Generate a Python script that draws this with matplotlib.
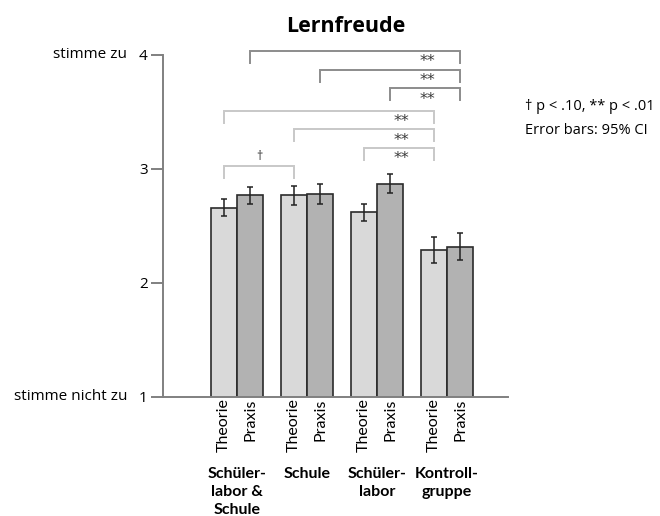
import numpy as np
import matplotlib.pyplot as plt

plt.rcParams['font.family'] = ['Open Sans', 'DejaVu Sans']

gruppen = ['Schüler-\nlabor &\nSchule', 'Schule', 'Schüler-\nlabor', 'Kontroll-\ngruppe']
theorie = [2.66, 2.77, 2.62, 2.29]
praxis = [2.77, 2.78, 2.87, 2.32]
theorie_ci = [0.073, 0.085, 0.077, 0.114]
praxis_ci = [0.075, 0.086, 0.083, 0.116]

# brackets: (group a, bar a, group b, bar b, height, label, dark?)
brackets = [
    (0, 'P', 3, 'P', 4.035, '**', True),
    (1, 'P', 3, 'P', 3.868, '**', True),
    (2, 'P', 3, 'P', 3.71, '**', True),
    (0, 'T', 3, 'T', 3.511, '**', False),
    (1, 'T', 3, 'T', 3.35, '**', False),
    (2, 'T', 3, 'T', 3.184, '**', False),
    (0, 'T', 1, 'T', 3.026, '†', False),
]

w = 26 / 70
x = np.arange(len(gruppen))

fig = plt.figure(figsize=(6.6, 5.16), dpi=100)
ax = fig.add_axes([163 / 660, 119 / 516, 345 / 660, 353.4 / 516])

ax.bar(x - w / 2, theorie, w, color='#d9d9d9', edgecolor='#2b2b2b', linewidth=1.2, zorder=2)
ax.bar(x + w / 2, praxis, w, color='#b2b2b2', edgecolor='#2b2b2b', linewidth=1.2, zorder=2)
ax.errorbar(x - w / 2, theorie, yerr=theorie_ci, fmt='none', ecolor='#222222',
            elinewidth=1.1, capsize=2.3, capthick=1.1, zorder=3)
ax.errorbar(x + w / 2, praxis, yerr=praxis_ci, fmt='none', ecolor='#222222',
            elinewidth=1.1, capsize=2.3, capthick=1.1, zorder=3)

leg = 0.105
for ga, ba, gb, bb, h, lab, dark in brackets:
    xa = ga + (w / 2 if ba == 'P' else -w / 2)
    xb = gb + (w / 2 if bb == 'P' else -w / 2)
    col = '#8c8c8c' if dark else '#c8c8c8'
    ax.plot([xa, xa, xb, xb], [h - leg, h, h, h - leg], color=col, lw=1.4,
            solid_joinstyle='miter', clip_on=False)
    if lab == '**':
        ax.text(xb - 0.47, h - 0.096, lab, ha='center', va='center', fontsize=11.5,
                color='#3a3a3a', family='DejaVu Sans')
    else:
        ax.text((xa + xb) / 2, h + 0.03, lab, ha='center', va='bottom', fontsize=9, color='#333333')

ax.set_xlim(-1.057, 3.87)
ax.set_ylim(1, 4.1)
ax.spines['top'].set_visible(False)
ax.spines['right'].set_visible(False)
ax.spines['left'].set_bounds(1, 4)
for s in ['left', 'bottom']:
    ax.spines[s].set_color('#808080')
    ax.spines[s].set_linewidth(1.4)

ax.set_yticks([1, 2, 3, 4])
ax.set_yticklabels(['1', '2', '3', '4'], fontsize=11)
ax.tick_params(axis='y', length=9, width=1.4, color='#808080', pad=2)
ax.text(-0.104, 4, 'stimme zu', transform=ax.get_yaxis_transform(), ha='right', va='center',
        fontsize=11)
ax.text(-0.104, 1, 'stimme nicht zu', transform=ax.get_yaxis_transform(), ha='right', va='center',
        fontsize=11)

pos = np.concatenate([x - w / 2, x + w / 2])
labs = ['Theorie'] * 4 + ['Praxis'] * 4
ax.set_xticks(pos)
ax.set_xticklabels(labs, rotation=90, fontsize=11.5, family='Lato')
ax.tick_params(axis='x', length=0, pad=1)

for i, g in enumerate(gruppen):
    ax.text(i, 0.39, g, ha='center', va='top', fontsize=11.5, fontweight='bold',
            linespacing=1.4, clip_on=False, family='Lato')

fig.text(346 / 660, 1 - 27 / 516, 'Lernfreude', ha='center', va='center', fontsize=15.5, fontweight='bold')
fig.text(525 / 660, 1 - 106 / 516, '† p < .10, ** p < .01', ha='left', va='center', fontsize=10.5)
fig.text(525 / 660, 1 - 130 / 516, 'Error bars: 95% CI', ha='left', va='center', fontsize=10.5)

fig.savefig('out.png', dpi=100)
